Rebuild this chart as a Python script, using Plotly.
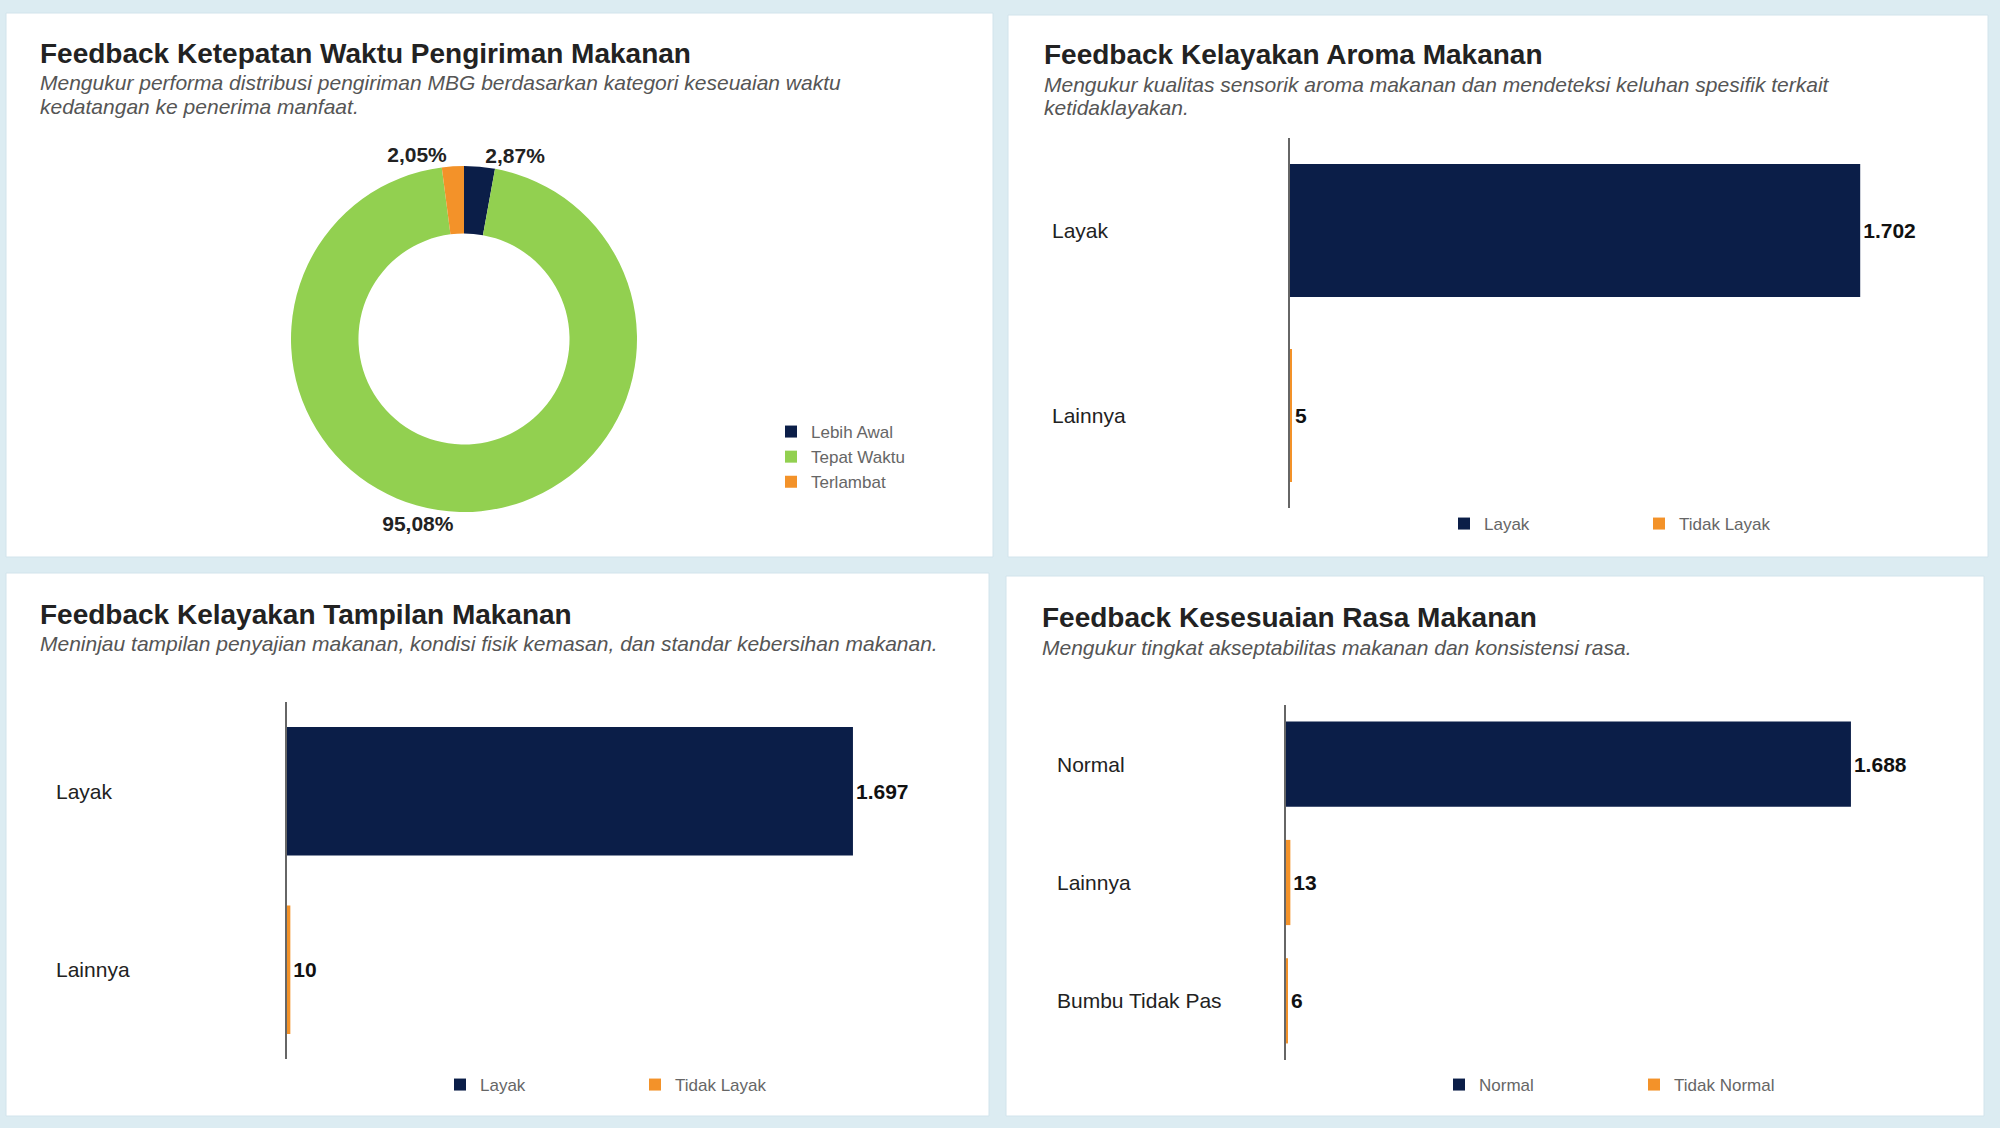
import plotly.graph_objects as go

# ---------------- data ----------------
delivery_labels = ["Lebih Awal", "Tepat Waktu", "Terlambat"]
delivery_counts = [49, 1623, 35]

aroma_categories = ["Layak", "Lainnya"]
aroma_values = [1702, 5]
aroma_series = ["Layak", "Tidak Layak"]

tampilan_categories = ["Layak", "Lainnya"]
tampilan_values = [1697, 10]
tampilan_series = ["Layak", "Tidak Layak"]

rasa_categories = ["Normal", "Lainnya", "Bumbu Tidak Pas"]
rasa_values = [1688, 13, 6]
rasa_series = ["Normal", "Tidak Normal"]

titles = [
    "Feedback Ketepatan Waktu Pengiriman Makanan",
    "Feedback Kelayakan Aroma Makanan",
    "Feedback Kelayakan Tampilan Makanan",
    "Feedback Kesesuaian Rasa Makanan",
]
subtitles = [
    ["Mengukur performa distribusi pengiriman MBG berdasarkan kategori keseuaian waktu",
     "kedatangan ke penerima manfaat."],
    ["Mengukur kualitas sensorik aroma makanan dan mendeteksi keluhan spesifik terkait",
     "ketidaklayakan."],
    ["Meninjau tampilan penyajian makanan, kondisi fisik kemasan, dan standar kebersihan makanan."],
    ["Mengukur tingkat akseptabilitas makanan dan konsistensi rasa."],
]

# ---------------- style ----------------
W, H = 2000, 1128
NAVY = "#0b1e48"
GREEN = "#92d050"
ORANGE = "#f39229"
BG = "#dcecf2"
FONT = "Liberation Sans, Arial, sans-serif"


def px(x):
    return x / W


def py(y):
    return 1 - y / H


fig = go.Figure()

# donut
fig.add_trace(go.Pie(
    labels=delivery_labels, values=delivery_counts, hole=0.61, sort=False,
    direction="clockwise", rotation=0,
    marker=dict(colors=[NAVY, GREEN, ORANGE]),
    textposition="outside", texttemplate="<b>%{percent:.2%}</b>",
    textfont=dict(size=21, color="#222", family=FONT),
    domain=dict(x=[px(291), px(637)], y=[py(512), py(166)]),
    legend="legend", showlegend=True,
))


def add_bars(cats, vals, series, xa, ya, leg):
    fig.add_trace(go.Bar(
        y=cats[:1], x=vals[:1], orientation="h", name=series[0],
        marker=dict(color=NAVY, line=dict(width=0)), width=0.72,
        texttemplate="<b>%{x:,}</b>", textposition="outside", cliponaxis=False,
        textfont=dict(size=21, color="#111", family=FONT),
        xaxis=xa, yaxis=ya, legend=leg,
    ))
    fig.add_trace(go.Bar(
        y=cats[1:], x=vals[1:], orientation="h", name=series[1],
        marker=dict(color=ORANGE, line=dict(width=0)), width=0.72,
        texttemplate="<b>%{x:,}</b>", textposition="outside", cliponaxis=False,
        textfont=dict(size=21, color="#111", family=FONT),
        xaxis=xa, yaxis=ya, legend=leg,
    ))


add_bars(aroma_categories, aroma_values, aroma_series, "x", "y", "legend2")
add_bars(tampilan_categories, tampilan_values, tampilan_series, "x2", "y2", "legend3")
add_bars(rasa_categories, rasa_values, rasa_series, "x3", "y3", "legend4")

xcommon = dict(showgrid=False, zeroline=False, showticklabels=False, showline=False, ticks="")
ycommon = dict(showgrid=False, zeroline=False, showticklabels=False, showline=True,
               linecolor="#666", linewidth=1.5, ticks="", autorange="reversed",
               categoryorder="array")

fig.update_layout(
    xaxis=dict(domain=[px(1290), px(1950)], range=[0, 1970], anchor="y", **xcommon),
    yaxis=dict(domain=[py(508), py(138)], anchor="x", categoryarray=aroma_categories, **ycommon),
    xaxis2=dict(domain=[px(287), px(950)], range=[0, 1988], anchor="y2", **xcommon),
    yaxis2=dict(domain=[py(1059), py(702)], anchor="x2", categoryarray=tampilan_categories, **ycommon),
    xaxis3=dict(domain=[px(1286), px(1950)], range=[0, 1984], anchor="y3", **xcommon),
    yaxis3=dict(domain=[py(1060), py(705)], anchor="x3", categoryarray=rasa_categories, **ycommon),
)

# panels
panels = [(6, 13, 993, 557), (1008, 15, 1988, 557), (6, 573, 989, 1116), (1006, 576, 1984, 1116)]
shapes = []
for x0, y0, x1, y1 in panels:
    shapes.append(dict(type="rect", xref="paper", yref="paper", layer="below",
                       x0=px(x0), x1=px(x1), y0=py(y1), y1=py(y0),
                       fillcolor="white", line=dict(color="#d2e4ec", width=1)))

annotations = []
title_pos = [(38, 54), (1042, 55), (38, 614), (1040, 617)]
sub_pos = [[83, 107], [84, 108], [643], [647]]
for t, (tx, ty), subs, sp in zip(titles, title_pos, subtitles, sub_pos):
    annotations.append(dict(text="<b>" + t + "</b>", x=px(tx), y=py(ty), xref="paper", yref="paper",
                            xanchor="left", yanchor="middle", showarrow=False,
                            font=dict(size=28, color="#222", family=FONT)))
    for s, sy in zip(subs, sp):
        annotations.append(dict(text="<i>" + s + "</i>", x=px(tx), y=py(sy), xref="paper", yref="paper",
                                xanchor="left", yanchor="middle", showarrow=False,
                                font=dict(size=21, color="#555", family=FONT)))

# category labels (left aligned)
for cats, yref, lx in [(aroma_categories, "y", 1050), (tampilan_categories, "y2", 54), (rasa_categories, "y3", 1055)]:
    for c in cats:
        annotations.append(dict(text=c, x=px(lx), y=c, xref="paper", yref=yref,
                                xanchor="left", yanchor="middle", showarrow=False,
                                font=dict(size=21, color="#222", family=FONT)))

legfont = dict(size=17, color="#666", family=FONT)
fig.update_layout(
    width=W, height=H, margin=dict(l=0, r=0, t=0, b=0),
    paper_bgcolor=BG, plot_bgcolor="rgba(0,0,0,0)",
    separators=",.",
    font=dict(family=FONT),
    shapes=shapes, annotations=annotations,
    barmode="overlay",
    legend=dict(x=px(771), y=py(414), xanchor="left", yanchor="top", orientation="v",
                font=legfont, bgcolor="rgba(0,0,0,0)", tracegroupgap=0),
    legend2=dict(x=px(1444), y=py(524), xanchor="left", yanchor="middle", orientation="h",
                 font=legfont, bgcolor="rgba(0,0,0,0)", entrywidth=150, entrywidthmode="pixels"),
    legend3=dict(x=px(440), y=py(1085), xanchor="left", yanchor="middle", orientation="h",
                 font=legfont, bgcolor="rgba(0,0,0,0)", entrywidth=150, entrywidthmode="pixels"),
    legend4=dict(x=px(1439), y=py(1085), xanchor="left", yanchor="middle", orientation="h",
                 font=legfont, bgcolor="rgba(0,0,0,0)", entrywidth=150, entrywidthmode="pixels"),
)

fig.write_html(
    "out.html",
    config={"displayModeBar": False},
    post_script="document.body.style.margin='0';document.body.style.background='" + BG + "';",
)
